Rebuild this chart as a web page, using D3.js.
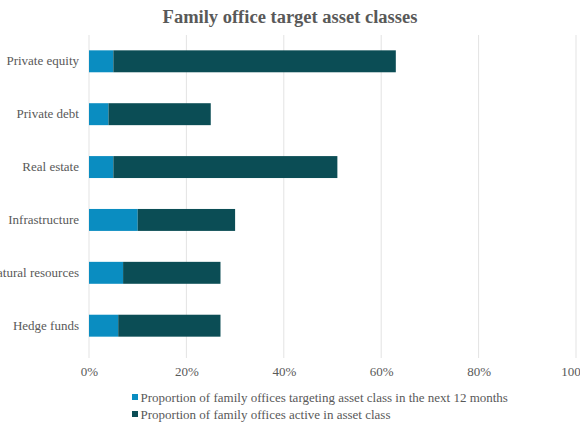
<!DOCTYPE html>
<meta charset="utf-8">
<script src="https://d3js.org/d3.v7.min.js"></script>
<style>
  body { margin: 0; background: #fff; }
  text { font-family: Georgia, "Liberation Serif", serif; fill: #595959; }
</style>
<div id="chart"></div>
<script>
// asset classes, top to bottom
var categories = ["Private equity", "Private debt", "Real estate", "Infrastructure", "Natural resources", "Hedge funds"];
// % targeting the class in the next 12 months (light segment)
var targeting = [5, 4, 5, 10, 7, 6];
// remaining share active in the class (dark segment, stacked on top)
var active = [58, 21, 46, 20, 20, 21];
var xTicks = [0, 20, 40, 60, 80, 100];
var seriesNames = ["Proportion of family offices targeting asset class in the next 12 months",
                   "Proportion of family offices active in asset class"];
var colors = ["#0a8dc1", "#0b4d55"];

var W = 580, H = 435;
var margin = {top: 35, right: 4, bottom: 83, left: 89};

var svg = d3.select("#chart").append("svg")
  .attr("width", W).attr("height", H);

var x = d3.scaleLinear().domain([0, 100]).range([margin.left, W - margin.right]);
var y = d3.scaleBand().domain(categories).range([margin.top, H - margin.bottom]).paddingInner(0.585).paddingOuter(0.29);

// title
svg.append("text")
  .attr("x", 290).attr("y", 23)
  .attr("text-anchor", "middle")
  .style("font-size", "18.5px").style("font-weight", "bold")
  .text("Family office target asset classes");

// gridlines
svg.append("g").selectAll("line")
  .data(xTicks)
  .join("line")
    .attr("x1", function(d) { return x(d); })
    .attr("x2", function(d) { return x(d); })
    .attr("y1", margin.top).attr("y2", H - margin.bottom + 6)
    .attr("stroke", "#e3e3e3").attr("stroke-width", 1);

// x axis labels
var xAxis = svg.append("g")
  .attr("transform", "translate(0," + (H - margin.bottom) + ")")
  .call(d3.axisBottom(x).tickValues(xTicks).tickSize(0).tickPadding(15).tickFormat(function(d) { return d + "%"; }));
xAxis.select(".domain").remove();
xAxis.selectAll("text").style("font-size", "13px").attr("fill", "#595959");

// y axis labels
var yAxis = svg.append("g")
  .attr("transform", "translate(" + margin.left + ",0)")
  .call(d3.axisLeft(y).tickSize(0).tickPadding(10));
yAxis.select(".domain").remove();
yAxis.selectAll("text").style("font-size", "13px").attr("fill", "#595959");

// stacked bars
var rows = categories.map(function(c, i) { return {cat: c, t: targeting[i], a: active[i]}; });
var stack = d3.stack().keys(["t", "a"])(rows);

svg.append("g").selectAll("g")
  .data(stack)
  .join("g")
    .attr("fill", function(d, i) { return colors[i]; })
  .selectAll("rect")
  .data(function(d) { return d; })
  .join("rect")
    .attr("x", function(d) { return x(d[0]); })
    .attr("y", function(d) { return y(d.data.cat); })
    .attr("width", function(d) { return x(d[1]) - x(d[0]); })
    .attr("height", y.bandwidth());

// legend
var legend = svg.append("g").selectAll("g")
  .data(seriesNames)
  .join("g")
    .attr("transform", function(d, i) { return "translate(132," + (397 + i * 17) + ")"; });
legend.append("rect")
  .attr("x", 0).attr("y", -3).attr("width", 6).attr("height", 6)
  .attr("fill", function(d, i) { return colors[i]; });
legend.append("text")
  .attr("x", 8.5).attr("y", 0).attr("dy", "0.35em")
  .style("font-size", "13px")
  .text(function(d) { return d; });
</script>
